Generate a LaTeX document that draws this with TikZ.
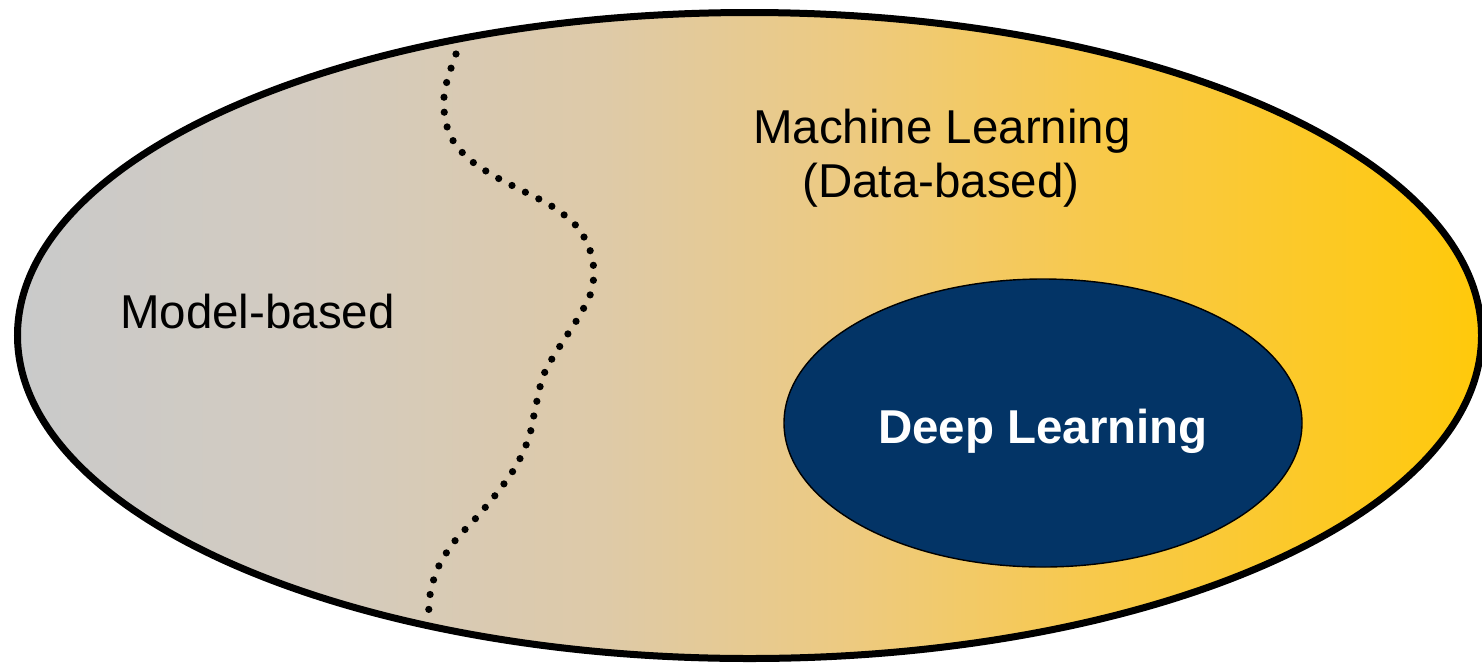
\documentclass[tikz,border=0pt]{standalone}
\usepackage{fontspec}
\setmainfont{Liberation Sans}
\usetikzlibrary{shapes.geometric}

% horizontal fill: grey on the left, warm tan in the middle, yellow on the right
\pgfdeclarehorizontalshading{mlfill}{100bp}{%
  color(0bp)=(rgb,255:red,201;green,202;blue,202);
  color(25bp)=(rgb,255:red,201;green,202;blue,202);
  color(34.7bp)=(rgb,255:red,211;green,203;blue,192);
  color(45bp)=(rgb,255:red,222;green,202;blue,168);
  color(53.5bp)=(rgb,255:red,237;green,202;blue,128);
  color(62bp)=(rgb,255:red,248;green,201;blue,74);
  color(75bp)=(rgb,255:red,255;green,201;blue,10);
  color(100bp)=(rgb,255:red,255;green,201;blue,10)}

\definecolor{dlnavy}{RGB}{3,52,102}

\tikzset{
  outerset/.style={ellipse, draw=black, line width=3.5pt, shading=mlfill,
    inner sep=0pt, minimum width=732pt, minimum height=323pt},
  innerset/.style={ellipse, draw=black, line width=0.7pt, fill=dlnavy,
    inner sep=0pt, minimum width=259pt, minimum height=144pt},
  lbl/.style={font=\fontsize{23.75}{27}\selectfont, inner sep=0pt, anchor=base},
  dotline/.style={line width=3.6pt, line cap=round, dash pattern=on 0pt off 7.5pt}
}

\begin{document}
\begin{tikzpicture}[x=0.5pt, y=-0.5pt]
\useasboundingbox (0,0) rectangle (1482,665);

% outer set and its subset
\node[outerset] (ml) at (749.5,335.5) {};
\node[innerset] (dl) at (1043,423) {};

% border between model-based and data-based methods
\draw[dotline] plot[smooth, tension=0.6] coordinates {
  (456,54) (446,85) (444,110) (451,137) (469,159) (496,177)
  (525,192) (553,207) (578,228) (592,257) (592,289) (578,318)
  (560,346) (544,374) (536,405) (529,437) (516,466) (497,493)
  (476,518) (454,542) (437,570) (429,601) (430,617)};

% labels
\node[lbl] (mb) at (257.5,328) {Model-based};
\node[lbl] (mla) at (942,143) {Machine Learning};
\node[lbl] (mlb) at (941,197) {(Data-based)};
\node[lbl, text=white, font=\fontsize{23.75}{27}\selectfont\bfseries] (dlt) at (1043,443) {Deep Learning};
\end{tikzpicture}
\end{document}
